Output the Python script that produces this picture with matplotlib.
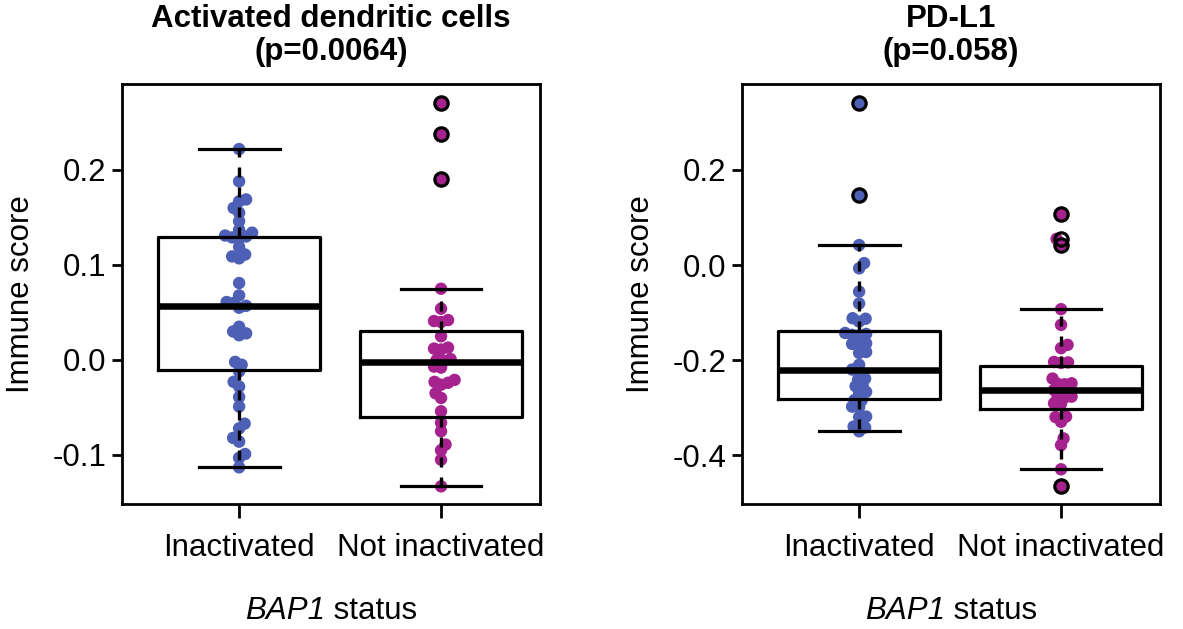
import numpy as np
import matplotlib
matplotlib.use("Agg")
import matplotlib.pyplot as plt
from matplotlib.offsetbox import TextArea, HPacker, AnchoredOffsetbox

plt.rcParams['font.family'] = ['Liberation Sans', 'DejaVu Sans']
plt.rcParams['axes.unicode_minus'] = False

# ---------------- data ----------------
groups = ["Inactivated", "Not inactivated"]
titles = ["Activated dendritic cells\n(p=0.0064)", "PD-L1\n(p=0.058)"]
xlabel_gene = "BAP1"
xlabel_rest = " status"
ylabel = "Immune score"

adc_inactivated = [0.222, 0.188, 0.169, 0.167, 0.160, 0.155, 0.146, 0.137, 0.134,
                   0.131, 0.130, 0.129, 0.128, 0.119, 0.111, 0.109, 0.107, 0.081,
                   0.068, 0.061, 0.060, 0.057, 0.055, 0.035, 0.030, 0.026, 0.028,
                   -0.002, -0.005, -0.012, -0.023, -0.028, -0.039, -0.049, -0.067,
                   -0.072, -0.082, -0.086, -0.099, -0.103, -0.113]
adc_not_inactivated = [0.270, 0.238, 0.190, 0.075, 0.054, 0.042, 0.041, 0.040, 0.025,
                       0.013, 0.012, 0.011, 0.001, 0.000, -0.001, -0.007, -0.008,
                       -0.021, -0.023, -0.024, -0.026, -0.035, -0.040, -0.054, -0.066,
                       -0.075, -0.089, -0.095, -0.105, -0.133]
pdl1_inactivated = [0.340, 0.147, 0.042, 0.004, -0.007, -0.056, -0.081, -0.112, -0.113,
                    -0.119, -0.143, -0.145, -0.147, -0.148, -0.165, -0.166, -0.168,
                    -0.183, -0.185, -0.210, -0.220, -0.225, -0.239, -0.241, -0.253,
                    -0.255, -0.267, -0.268, -0.284, -0.285, -0.298, -0.299, -0.319,
                    -0.320, -0.340, -0.342, -0.350]
pdl1_not_inactivated = [0.107, 0.055, 0.043, -0.093, -0.126, -0.168, -0.175, -0.204,
                        -0.205, -0.206, -0.239, -0.249, -0.250, -0.251, -0.263, -0.264,
                        -0.277, -0.278, -0.279, -0.291, -0.292, -0.319, -0.320, -0.330,
                        -0.365, -0.379, -0.430, -0.465]

# box statistics: [Inactivated, Not inactivated]
adc_q1 = [-0.0105, -0.060]
adc_med = [0.057, -0.002]
adc_q3 = [0.1295, 0.0305]
adc_whislo = [-0.113, -0.133]
adc_whishi = [0.222, 0.075]

pdl1_q1 = [-0.283, -0.303]
pdl1_med = [-0.220, -0.264]
pdl1_q3 = [-0.139, -0.212]
pdl1_whislo = [-0.350, -0.430]
pdl1_whishi = [0.042, -0.093]

adc_yticks = [0.2, 0.1, 0.0, -0.1]
adc_yticklabels = ["0.2", "0.1", "0.0", "-0.1"]
pdl1_yticks = [0.2, 0.0, -0.2, -0.4]
pdl1_yticklabels = ["0.2", "0.0", "-0.2", "-0.4"]

colors = ["#4E5FB6", "#A6228E"]

FS = 22.5

# ---------------- figure ----------------
W, H = 1183, 629
fig = plt.figure(figsize=(W / 100, H / 100), dpi=100)

panels = [
    dict(rect=[122 / W, 1 - 504 / H, 418 / W, 420 / H], ylim=(-0.1516, 0.2905),
         data=[adc_inactivated, adc_not_inactivated], q1=adc_q1, med=adc_med,
         q3=adc_q3, lo=adc_whislo, hi=adc_whishi, yt=adc_yticks,
         ytl=adc_yticklabels, title=titles[0]),
    dict(rect=[742 / W, 1 - 504 / H, 418 / W, 420 / H], ylim=(-0.503, 0.381),
         data=[pdl1_inactivated, pdl1_not_inactivated], q1=pdl1_q1, med=pdl1_med,
         q3=pdl1_q3, lo=pdl1_whislo, hi=pdl1_whishi, yt=pdl1_yticks,
         ytl=pdl1_yticklabels, title=titles[1]),
]


def swarm_offsets(ax, xc, vals, dmin=7.0, step=0.5):
    vals = np.asarray(vals, float)
    pts = ax.transData.transform(np.column_stack([np.full(len(vals), xc), vals]))
    xpx_per_unit = (ax.transData.transform((1, 0))[0] - ax.transData.transform((0, 0))[0])
    order = np.argsort(vals)
    placed = []
    offs = np.zeros(len(vals))
    flip = 1
    for i in order:
        y = pts[i, 1]
        k = 0
        chosen = None
        while chosen is None:
            cands = [0.0] if k == 0 else [flip * k * step, -flip * k * step]
            for c in cands:
                ok = all((c - px) ** 2 + (y - py) ** 2 >= dmin ** 2 for px, py in placed)
                if ok:
                    chosen = c
                    break
            k += 1
        if chosen != 0:
            flip = -flip
        placed.append((chosen, y))
        offs[i] = chosen / xpx_per_unit
    return offs


for p in panels:
    ax = fig.add_axes(p["rect"])
    ax.set_xlim(0.42, 2.49)
    ax.set_ylim(*p["ylim"])
    positions = [1, 2]

    # points (beeswarm)
    for j, vals in enumerate(p["data"]):
        offs = swarm_offsets(ax, positions[j], vals)
        ax.scatter(np.array(positions[j]) + offs, vals, s=80, color=colors[j],
                   edgecolors="none", zorder=2)

    # boxes
    stats = []
    for j, vals in enumerate(p["data"]):
        v = np.asarray(vals)
        fl = v[(v > p["hi"][j] + 1e-9) | (v < p["lo"][j] - 1e-9)]
        stats.append(dict(med=p["med"][j], q1=p["q1"][j], q3=p["q3"][j],
                          whislo=p["lo"][j], whishi=p["hi"][j], fliers=fl))
    ax.bxp(stats, positions=positions, widths=0.8, showfliers=True,
           boxprops=dict(color="black", linewidth=2.3),
           medianprops=dict(color="black", linewidth=4.7, solid_capstyle="butt"),
           whiskerprops=dict(color="black", linewidth=2.4, linestyle=(0, (3.0, 3.0))),
           capprops=dict(color="black", linewidth=2.3),
           capwidths=0.4,
           flierprops=dict(marker="o", markerfacecolor="none", markeredgecolor="black",
                           markersize=9.6, markeredgewidth=2.3),
           zorder=3)

    ax.set_xlim(0.42, 2.49)
    ax.set_ylim(*p["ylim"])
    ax.set_xticks(positions)
    ax.set_xticklabels(groups, fontsize=FS)
    ax.set_yticks(p["yt"])
    ax.set_yticklabels(p["ytl"], fontsize=FS)
    ax.tick_params(axis="x", length=10, width=2, pad=11)
    ax.tick_params(axis="y", length=7, width=2, pad=4)
    for s in ax.spines.values():
        s.set_linewidth(2)
    ax.set_ylabel(ylabel, fontsize=FS, labelpad=12)
    ax.set_title(p["title"], fontsize=FS, fontweight="bold", pad=17, linespacing=1.15)

    # x axis title with italic gene name
    box = HPacker(children=[TextArea(xlabel_gene, textprops=dict(fontsize=FS, style="italic")),
                            TextArea(xlabel_rest, textprops=dict(fontsize=FS))],
                  align="baseline", pad=0, sep=0)
    anch = AnchoredOffsetbox(loc="center", child=box, pad=0, frameon=False,
                             bbox_to_anchor=(0.5, -0.255), bbox_transform=ax.transAxes,
                             borderpad=0)
    ax.add_artist(anch)

fig.savefig("out.png", dpi=100)
